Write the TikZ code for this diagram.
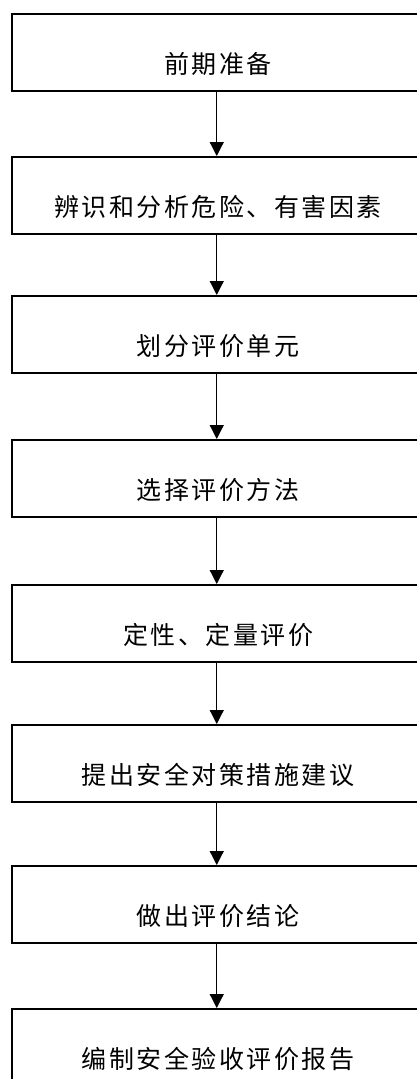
\documentclass[tikz,border=0pt]{standalone}
\usepackage{fontspec}
\newfontfamily\cjk{Noto Sans CJK SC}[LetterSpace=10]
\usetikzlibrary{arrows.meta,calc}
\tikzset{
  stepbox/.style={draw=black, line width=1.5pt, fill=white, rectangle, minimum width=410pt, minimum height=77pt, anchor=north west, inner sep=0pt},
  steptext/.style={font=\cjk\fontsize{25}{28}\selectfont, inner sep=0pt, xshift=1.3pt},
  flow/.style={draw=black, line width=1.2pt, -{Triangle[width=14pt,length=14pt]}}
}
\begin{document}
\begin{tikzpicture}[x=1pt,y=-1pt]
\useasboundingbox (0,0) rectangle (417,1079);
\clip (0,0) rectangle (417,1079);
\fill[white] (0,0) rectangle (417,1079);
\node[stepbox] (b1) at (11,13) {};
\node[stepbox] (b2) at (11,156) {};
\node[stepbox] (b3) at (11,295) {};
\node[stepbox] (b4) at (11,439) {};
\node[stepbox] (b5) at (11,584) {};
\node[stepbox] (b6) at (11,724) {};
\node[stepbox] (b7) at (11,865) {};
\node[stepbox] (b8) at (11,1008) {};
\node[steptext] (t1) at ($(b1.center)+(0,12)$) {前期准备};
\node[steptext] (t2) at ($(b2.center)+(0,12)$) {辨识和分析危险、有害因素};
\node[steptext] (t3) at ($(b3.center)+(0,12)$) {划分评价单元};
\node[steptext] (t4) at ($(b4.center)+(0,12)$) {选择评价方法};
\node[steptext] (t5) at ($(b5.center)+(0,12)$) {定性、定量评价};
\node[steptext] (t6) at ($(b6.center)+(0,12)$) {提出安全对策措施建议};
\node[steptext] (t7) at ($(b7.center)+(0,12)$) {做出评价结论};
\node[steptext] (t8) at ($(b8.center)+(0,12)$) {编制安全验收评价报告};
\draw[flow] (b1.south) -- (b2.north);
\draw[flow] (b2.south) -- (b3.north);
\draw[flow] (b3.south) -- (b4.north);
\draw[flow] (b4.south) -- (b5.north);
\draw[flow] (b5.south) -- (b6.north);
\draw[flow] (b6.south) -- (b7.north);
\draw[flow] (b7.south) -- (b8.north);
\end{tikzpicture}
\end{document}
